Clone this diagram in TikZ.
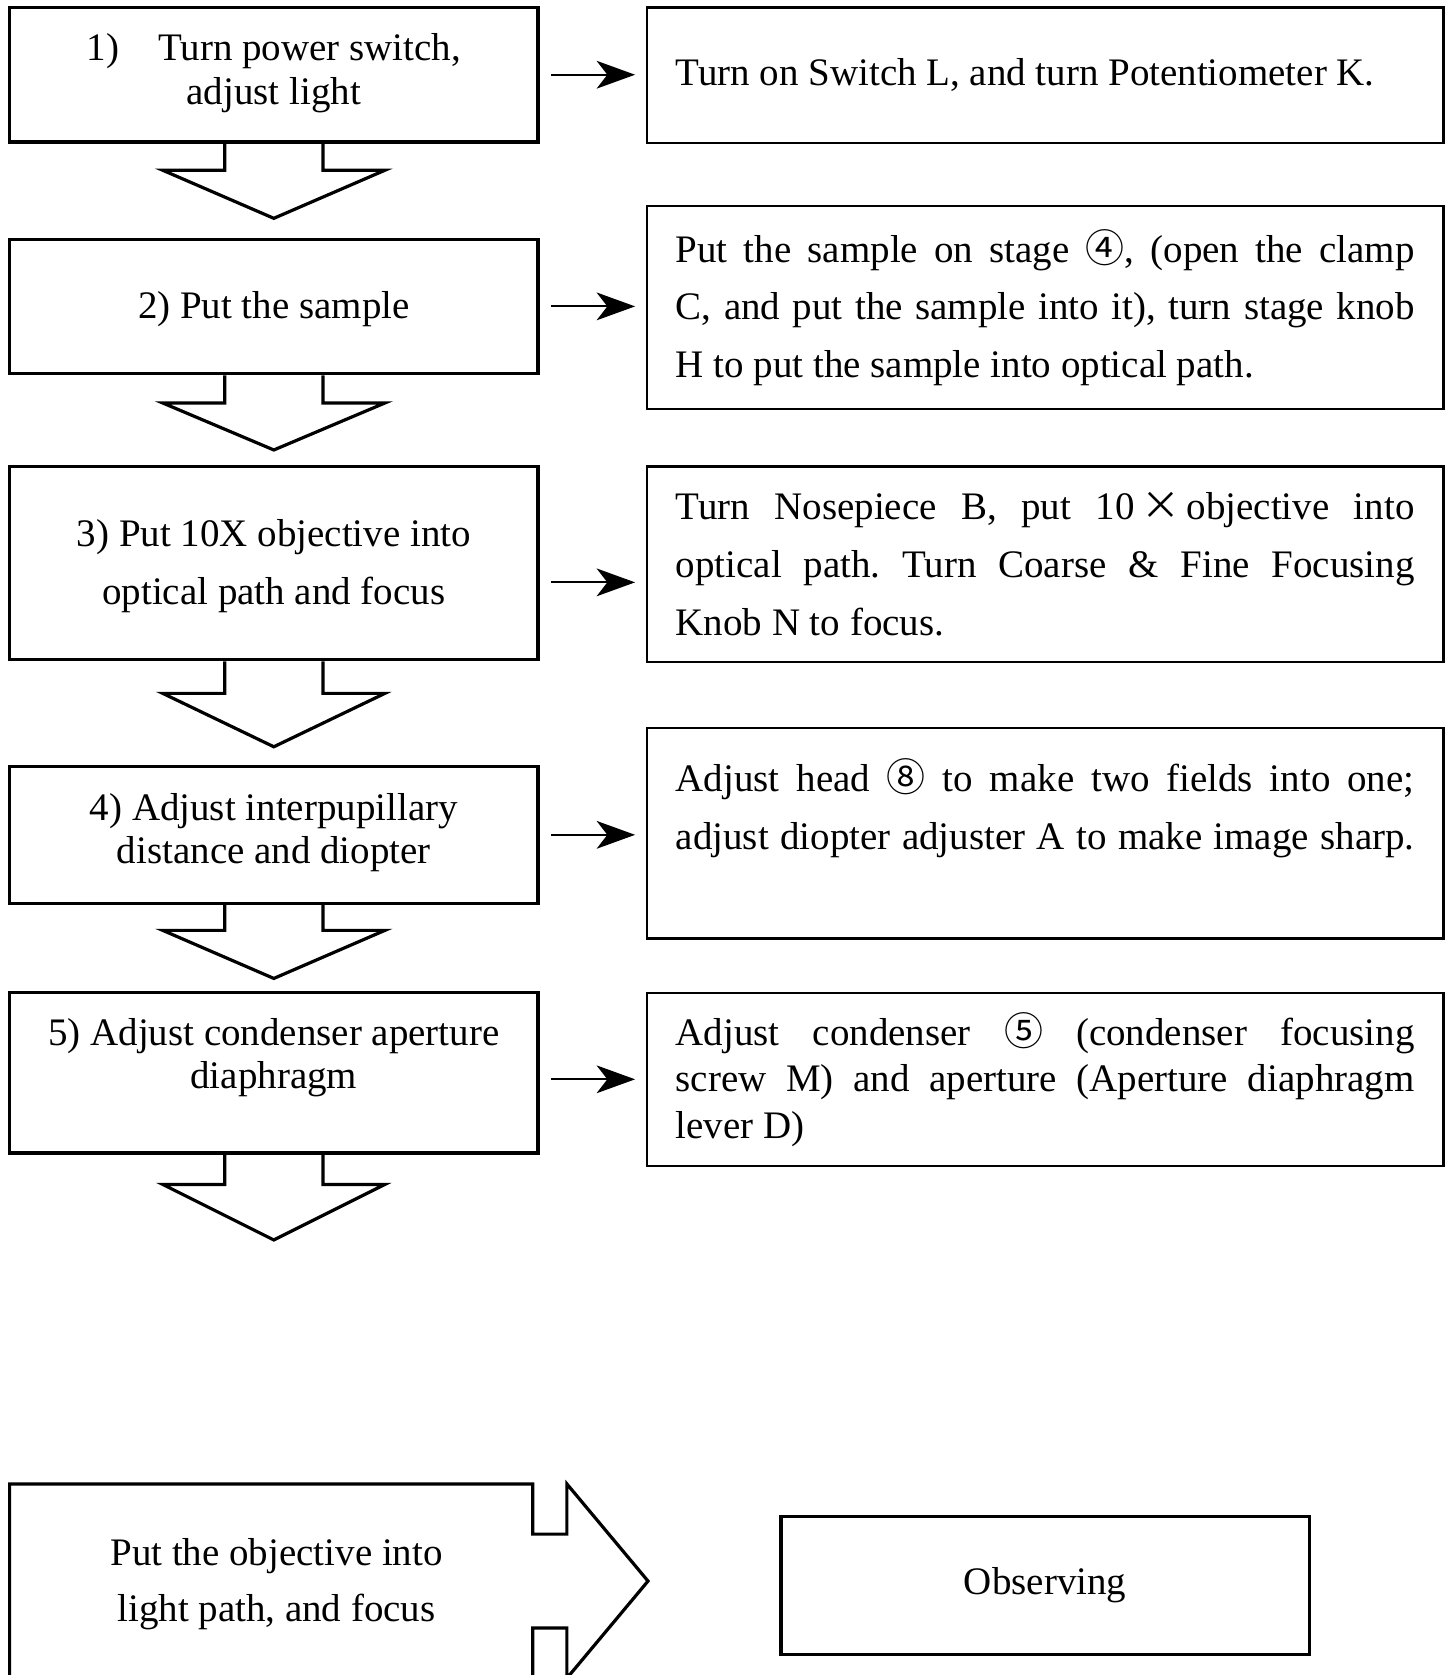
\documentclass[tikz,border=0pt]{standalone}
\usepackage{fontspec}
\setmainfont{Liberation Serif}
\newfontfamily\cjk{Noto Sans CJK SC}
\usetikzlibrary{arrows.meta}
\setlength{\parindent}{0pt}
\frenchspacing

\begin{document}
\begin{tikzpicture}[x=0.5pt,y=-0.5pt,
  font=\fontsize{18.25}{20.5}\selectfont,
  stepbox/.style={draw,line width=1.5pt,minimum width=247.5pt,inner sep=0pt},
  steptext/.style={align=center,inner sep=0pt},
  notebox/.style={draw,line width=1.1pt,text width=346pt,inner xsep=13.5pt,inner ysep=0pt,align=justify,font=\fontsize{18.25}{27}\selectfont},
  linkarrow/.style={-{Stealth[length=18pt,width=13pt,inset=5pt]},line width=1pt,shorten <=5.5pt,shorten >=5pt},
  blockdown/.style={line width=1.5pt,line join=miter}]
\useasboundingbox (0,0) rectangle (1360,1569);

% steps on the left
\node[stepbox,minimum height=63pt] (s1) at (256.5,70) {};
\node[stepbox,minimum height=63pt] (s2) at (256.5,287) {};
\node[stepbox,minimum height=90.5pt] (s3) at (256.5,527.5) {};
\node[stepbox,minimum height=64pt] (s4) at (256.5,782) {};
\node[stepbox,minimum height=75pt] (s5) at (256.5,1005) {};

\node[steptext] (t1) at (256.5,68.5) {1)\quad Turn power switch,\\adjust light};
\node[steptext] (t2) at (256.5,290) {2) Put the sample};
\node[steptext,font=\fontsize{18.25}{27}\selectfont] (t3) at (256.5,530.5) {3) Put 10X objective into\\optical path and focus};
\node[steptext,font=\fontsize{18.25}{20}\selectfont] (t4) at (256.5,780) {4) Adjust interpupillary\\distance and diopter};
\node[steptext,font=\fontsize{18.25}{20}\selectfont] (t5) at (256.5,991) {5) Adjust condenser aperture\\diaphragm};

% notes on the right
\node[notebox,minimum height=63.5pt] (r1) at (979,70.5) {Turn on Switch L, and turn Potentiometer K.};
\node[notebox,minimum height=95pt] (r2) at (979,288) {Put the sample on stage {\cjk ④}, (open the clamp\linebreak C, and put the sample into it), turn stage knob\linebreak H to put the sample into optical path.};
\node[notebox,minimum height=91.5pt] (r3) at (979,528.5) {Turn Nosepiece B, put 10\,{\cjk ×}\,objective into\linebreak optical path. Turn Coarse \& Fine Focusing\linebreak Knob N to focus.};
\node[notebox,minimum height=98.5pt,font=\fontsize{18.25}{27.5}\selectfont] (r4) at (979,780.5) {{\parfillskip=0pt Adjust head {\cjk ⑧} to make two fields into one;\linebreak adjust diopter adjuster A to make image sharp.\par}\mbox{}};
\node[notebox,minimum height=81pt,font=\fontsize{18.25}{21.75}\selectfont] (r5) at (979,1011) {Adjust condenser {\cjk ⑤} (condenser focusing\linebreak screw M) and aperture (Aperture diaphragm\linebreak lever D)};

\coordinate (a3) at ([yshift=-9pt]s3.east);
\draw[linkarrow] (s1.east) -- (s1.east -| r1.west);
\draw[linkarrow] (s2.east) -- (s2.east -| r2.west);
\draw[linkarrow] (a3) -- (a3 -| r3.west);
\draw[linkarrow] (s4.east) -- (s4.east -| r4.west);
\draw[linkarrow] (r5.west -| s5.east) -- (r5.west);

% block arrows down
\draw[blockdown,shift={(s1.south)}] (-46,0) -- (-46,25) -- (-104,25) -- (0,70) -- (104,25) -- (46,25) -- (46,0);
\draw[blockdown,shift={(s2.south)}] (-46,0) -- (-46,26) -- (-104,26) -- (0,70) -- (104,26) -- (46,26) -- (46,0);
\draw[blockdown,shift={(s3.south)}] (-46,0) -- (-46,30) -- (-104,30) -- (0,80) -- (104,30) -- (46,30) -- (46,0);
\draw[blockdown,shift={(s4.south)}] (-46,0) -- (-46,24) -- (-104,24) -- (0,69) -- (104,24) -- (46,24) -- (46,0);
\draw[blockdown,shift={(s5.south)}] (-46,0) -- (-46,28) -- (-104,28) -- (0,80) -- (104,28) -- (46,28) -- (46,0);

% last step and result
\draw[blockdown] (9,1390) -- (499,1390) -- (499,1437) -- (531,1437) -- (531,1390) -- (607,1481) -- (531,1572) -- (531,1525) -- (499,1525) -- (499,1572) -- (9,1572) -- cycle;
\node[steptext,font=\fontsize{18.25}{26.5}\selectfont] (t6) at (259,1484) {Put the objective into\\light path, and focus};
\node[stepbox,minimum height=64.5pt] (obs) at (979,1485) {Observing};
\end{tikzpicture}
\end{document}
